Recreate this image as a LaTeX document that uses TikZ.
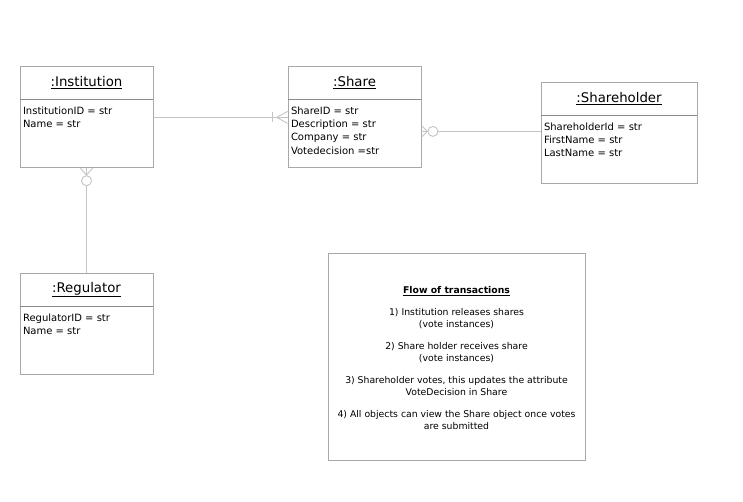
\documentclass[tikz,border=0pt]{standalone}
\usepackage{fontspec}
\setmainfont{DejaVu Sans}
\usetikzlibrary{positioning,calc}

\definecolor{boxgray}{HTML}{A8A8A8}
\definecolor{rulegray}{HTML}{8A8A8A}
\definecolor{linegray}{HTML}{C4C4C4}

% attribute list, kept at the top of the body box
\newcommand{\attrs}[2]{\parbox[t][54pt][t]{#1}{\fontsize{10}{13.3}\selectfont #2}}

\begin{document}
\begin{tikzpicture}[x=1pt,y=-1pt,
   classhead/.style={draw=boxgray, line width=0.8pt, minimum width=#1, minimum height=33pt,
      inner sep=0pt, font=\fontsize{13.3}{15}\selectfont},
   classbody/.style={draw=boxgray, line width=0.8pt, minimum width=#1, minimum height=68pt,
      inner xsep=3pt, inner ysep=7pt},
   divider/.style={draw=rulegray, line width=0.8pt},
   conn/.style={draw=linegray, line width=0.9pt},
   note/.style={draw=boxgray, line width=0.8pt, minimum width=257pt, minimum height=207pt,
      align=center, font=\fontsize{9.3}{12}\selectfont}]
   \useasboundingbox (0,0) rectangle (743,502);

   % objects
   \node[classhead=133pt] (inst) at (86.5,82.5) {\underline{:Institution}};
   \node[classbody=133pt, below=0pt of inst] (insta)
      {\attrs{127pt}{InstitutionID = str\\Name = str}};
   \node[classhead=133pt] (share) at (354.5,82.5) {\underline{:Share}};
   \node[classbody=133pt, below=0pt of share] (sharea)
      {\attrs{127pt}{ShareID = str\\Description = str\\Company = str\\Votedecision =str}};
   \node[classhead=156pt] (hold) at (619,98.5) {\underline{:Shareholder}};
   \node[classbody=156pt, below=0pt of hold] (holda)
      {\attrs{150pt}{ShareholderId = str\\FirstName = str\\LastName = str}};
   \node[classhead=133pt] (reg) at (86.5,289.5) {\underline{:Regulator}};
   \node[classbody=133pt, below=0pt of reg] (rega)
      {\attrs{127pt}{RegulatorID = str\\Name = str}};
   \foreach \b in {insta,sharea,holda,rega}
      \draw[divider] (\b.north west) -- (\b.north east);

   % note
   \node[note] (flow) at (456.5,356.5) {};
   \node[align=center, font=\fontsize{9.3}{12}\selectfont] (flowtext) at (456.5,358.5) {%
      \textbf{\underline{Flow of transactions}}\\[10pt]
      1) Institution releases shares\\(vote instances)\\[10pt]
      2) Share holder receives share\\(vote instances)\\[10pt]
      3) Shareholder votes, this updates the attribute\\VoteDecision in Share\\[10pt]
      4) All objects can view the Share object once votes\\are submitted};

   % institution -- share
   \draw[conn] ($(insta.north east)+(0,18)$) coordinate (i1) -- (i1 -| sharea.west) coordinate (s1);
   \draw[conn] ($(s1)+(0,-6)$) -- ($(s1)+(-11,0)$) -- ($(s1)+(0,6)$);
   \draw[conn] ($(s1)+(-15,-5)$) -- ($(s1)+(-15,5)$);

   % share -- shareholder
   \draw[conn] ($(sharea.north east)+(0,32)$) coordinate (s2) -- ($(s2)+(6,0)$);
   \draw[conn] ($(s2)+(0,-6)$) -- ($(s2)+(6,0)$) -- ($(s2)+(0,6)$);
   \draw[conn] ($(s2)+(11.5,0)$) circle (5);
   \draw[conn] ($(s2)+(16.5,0)$) -- (s2 -| holda.west);

   % institution -- regulator
   \coordinate (i2) at (insta.south);
   \draw[conn] ($(i2)+(-6,0)$) -- ($(i2)+(0,7)$) -- ($(i2)+(6,0)$);
   \draw[conn] (i2) -- ($(i2)+(0,7)$);
   \draw[conn] ($(i2)+(0,12.5)$) circle (5);
   \draw[conn] ($(i2)+(0,17.5)$) -- (reg.north);
\end{tikzpicture}
\end{document}
